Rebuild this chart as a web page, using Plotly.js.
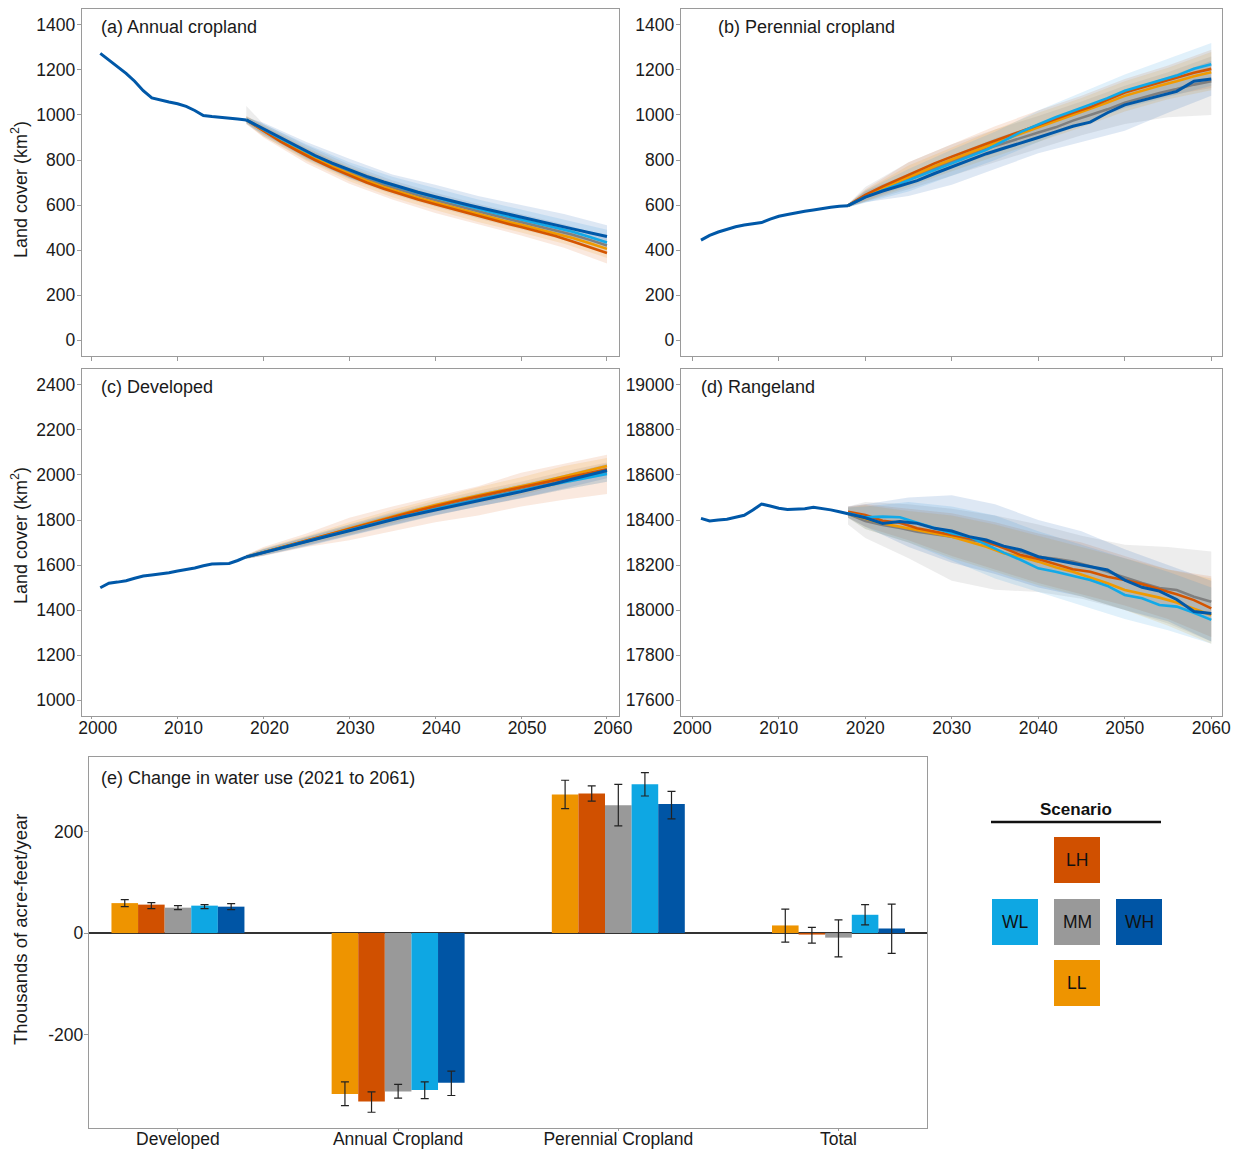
<!DOCTYPE html>
<html><head><meta charset="utf-8">
<script src="https://cdn.plot.ly/plotly-3.0.1.min.js"></script>
<style>html,body{margin:0;padding:0;background:#fff}#chart{width:1236px;height:1149px}</style>
</head><body><div id="chart"></div>
<script>
// ---------- DATA ----------
const scenarios = ['LL','LH','MM','WL','WH'];
const histYears = [2001,2002,2003,2004,2005,2006,2007,2008,2009,2010,2011,2012,2013,2014,2015,2016,2017,2018];
const projYears = [2018,2020,2022,2024,2026,2028,2030,2032,2034,2036,2038,2040,2042,2044,2046,2048,2050,2052,2054,2056,2058,2060];
const bandYears = [2018,2020,2025,2030,2035,2040,2045,2050,2055,2060];

// (a) Annual cropland
const annualHist = [1274,1245,1215,1185,1150,1108,1076,1066,1058,1050,1038,1020,998,993,990,988,982,978];
const annualLL = [978,930,886,845,806,770,738,708,680,655,632,611,590,570,549,530,512,493,474,453,430,405];
const annualLH = [978,928,882,840,800,764,731,700,672,647,624,603,582,562,541,521,502,482,462,438,413,387];
const annualMM = [978,933,890,850,812,778,746,717,690,665,643,622,601,582,562,543,525,506,488,468,445,420];
const annualWL = [978,936,895,856,818,785,754,726,700,676,654,633,612,593,573,554,536,518,500,481,458,433];
const annualWH = [978,938,897,858,820,786,755,727,702,679,657,637,617,599,581,563,546,529,512,494,477,460];
const annualLL_hi = [995,955,855,770,700,645,595,545,500,440];
const annualLL_lo = [965,905,795,705,635,578,525,478,428,365];
const annualLH_hi = [995,950,850,765,695,640,585,535,485,425];
const annualLH_lo = [960,900,785,695,625,565,515,465,410,340];
const annualMM_hi = [1040,960,865,780,710,655,605,560,515,460];
const annualMM_lo = [960,905,800,715,648,592,540,492,445,385];
const annualWL_hi = [992,960,870,790,725,675,625,580,535,490];
const annualWL_lo = [962,912,805,720,655,598,548,500,455,400];
const annualWH_hi = [990,965,880,805,735,690,640,600,560,510];
const annualWH_lo = [965,915,810,720,660,600,555,505,465,420];

// (b) Perennial cropland
const perennialHist = [444,465,480,493,503,511,517,522,537,550,558,566,572,578,585,590,594,597];
const perennialLL = [597,640,675,708,740,772,802,832,860,890,918,945,972,998,1025,1055,1085,1108,1130,1150,1172,1190];
const perennialLH = [597,645,683,718,752,785,815,845,872,900,928,955,985,1010,1035,1068,1100,1122,1145,1165,1188,1205];
const perennialMM = [597,642,675,705,735,765,795,822,850,875,900,922,945,975,1000,1025,1055,1078,1098,1115,1135,1150];
const perennialWL = [597,635,665,695,725,755,785,815,845,885,925,958,990,1018,1045,1075,1108,1130,1155,1175,1205,1225];
const perennialWH = [597,635,662,685,708,740,770,800,828,852,875,900,925,950,968,1010,1045,1065,1085,1105,1150,1160];
const perennialLL_hi = [605,665,775,855,935,1010,1075,1150,1210,1280];
const perennialLL_lo = [590,615,680,750,815,880,945,1015,1070,1110];
const perennialLH_hi = [605,670,790,870,950,1020,1085,1160,1220,1290];
const perennialLH_lo = [590,620,690,765,830,895,960,1035,1085,1120];
const perennialMM_hi = [605,680,790,870,935,995,1060,1130,1190,1260];
const perennialMM_lo = [590,615,670,730,790,850,910,960,990,1000];
const perennialWL_hi = [605,665,760,845,925,1020,1100,1180,1250,1320];
const perennialWL_lo = [590,610,660,730,800,880,960,1030,1080,1130];
const perennialWH_hi = [605,660,740,820,895,960,1030,1110,1170,1240];
const perennialWH_lo = [590,612,640,690,760,830,880,930,1010,1085];

// (c) Developed
const developedHist = [1499,1519,1524,1530,1541,1551,1556,1560,1566,1573,1579,1587,1597,1604,1606,1607,1620,1636];
const developedLL = [1636,1658,1678,1698,1718,1740,1762,1784,1806,1826,1847,1867,1885,1902,1918,1933,1948,1966,1984,2002,2021,2040];
const developedLH = [1636,1657,1677,1697,1717,1738,1759,1780,1802,1822,1842,1862,1880,1897,1913,1928,1943,1960,1977,1993,2009,2025];
const developedMM = [1636,1656,1675,1695,1715,1735,1755,1775,1795,1815,1834,1852,1870,1887,1903,1918,1933,1948,1964,1980,1996,2012];
const developedWL = [1636,1657,1676,1695,1714,1734,1754,1774,1794,1813,1831,1848,1865,1882,1898,1914,1930,1946,1960,1975,1990,2005];
const developedWH = [1636,1656,1675,1694,1713,1733,1752,1772,1792,1811,1828,1845,1862,1878,1894,1910,1926,1943,1962,1982,2001,2020];
const developedLL_hi = [1645,1675,1730,1790,1845,1895,1945,1990,2040,2075];
const developedLL_lo = [1628,1645,1690,1735,1785,1835,1875,1910,1960,2000];
const developedLH_hi = [1645,1680,1740,1810,1860,1905,1950,2010,2050,2090];
const developedLH_lo = [1628,1640,1680,1710,1750,1790,1820,1860,1890,1915];
const developedMM_hi = [1645,1670,1725,1780,1835,1885,1930,1970,2015,2055];
const developedMM_lo = [1628,1642,1685,1730,1775,1820,1860,1895,1935,1970];
const developedWL_hi = [1645,1672,1725,1780,1830,1875,1920,1960,2000,2045];
const developedWL_lo = [1628,1642,1682,1728,1775,1820,1860,1898,1935,1970];
const developedWH_hi = [1645,1670,1722,1775,1825,1870,1915,1955,2000,2050];
const developedWH_lo = [1628,1642,1684,1730,1778,1822,1860,1898,1940,1985];

// (d) Rangeland
const rangeHist = [18407,18396,18400,18403,18412,18421,18444,18471,18462,18452,18447,18447,18450,18456,18452,18445,18437,18428];
const rangeLL = [18428,18405,18385,18370,18355,18341,18326,18303,18281,18252,18237,18215,18190,18170,18145,18119,18089,18072,18055,18033,18007,17978];
const rangeLH = [18437,18422,18397,18388,18363,18348,18333,18318,18304,18275,18244,18227,18205,18181,18170,18148,18133,18115,18092,18070,18044,18007];
const rangeMM = [18428,18395,18378,18365,18348,18338,18326,18312,18299,18280,18259,18237,18228,18215,18195,18170,18144,18120,18098,18089,18059,18037];
const rangeWL = [18430,18412,18415,18412,18388,18363,18341,18326,18289,18255,18222,18185,18170,18151,18133,18107,18067,18052,18022,18015,17988,17956];
const rangeWH = [18428,18410,18385,18393,18385,18363,18351,18326,18311,18284,18267,18237,18222,18207,18193,18178,18133,18101,18084,18047,17993,17985];
const rangeLL_hi = [18455,18465,18440,18420,18380,18330,18280,18230,18180,18140];
const rangeLL_lo = [18410,18360,18300,18230,18170,18110,18060,18000,17930,17850];
const rangeLH_hi = [18460,18470,18450,18430,18390,18340,18300,18240,18180,18150];
const rangeLH_lo = [18410,18370,18310,18240,18180,18120,18070,18020,17960,17880];
const rangeMM_hi = [18460,18480,18470,18450,18420,18380,18330,18290,18280,18260];
const rangeMM_lo = [18380,18320,18230,18130,18090,18080,18050,18000,17940,17860];
const rangeWL_hi = [18455,18460,18480,18460,18420,18350,18290,18230,18170,18100];
const rangeWL_lo = [18410,18360,18300,18220,18140,18080,18020,17960,17910,17850];
const rangeWH_hi = [18460,18470,18500,18510,18470,18400,18350,18270,18200,18130];
const rangeWH_lo = [18410,18370,18280,18210,18160,18100,18060,18000,17950,17860];

// (e) Change in water use (thousands of acre-feet/year)
const waterCategories = ['Developed','Annual Cropland','Perennial Cropland','Total'];
const waterLL = [59,-317,273,15];
const waterLL_hi = [66,-293,301,47];
const waterLL_lo = [52,-340,245,-18];
const waterLH = [56,-332,275,-3];
const waterLH_hi = [60,-313,290,11];
const waterLH_lo = [48,-353,260,-20];
const waterMM = [50,-312,252,-9];
const waterMM_hi = [54,-298,293,26];
const waterMM_lo = [46,-325,211,-47];
const waterWL = [54,-309,293,36];
const waterWL_hi = [56,-293,316,56];
const waterWL_lo = [48,-326,270,16];
const waterWH = [52,-295,254,9];
const waterWH_hi = [58,-272,279,57];
const waterWH_lo = [46,-320,225,-40];

const yTicksWater = [-200,0,200];
const yTickTextWater = ['-200','0','200'];

// ---------- STYLE ----------
const barColors = {LL:'#EE9400', LH:'#D05000', MM:'#999999', WL:'#0EA7E3', WH:'#0055A5'};
const lineColors = {LL:'#F09A00', LH:'#D45500', MM:'#7F7F7F', WL:'#12A9E8', WH:'#0058A8'};
const bandColors = {LL:'rgba(240,154,0,0.14)', LH:'rgba(220,100,30,0.14)', MM:'rgba(140,140,140,0.16)', WL:'rgba(20,150,225,0.13)', WH:'rgba(0,80,170,0.13)'};
const FONT = 'Liberation Sans, Arial, Helvetica, sans-serif';
const TXT = '#1a1a1a';

const panels = [
  {ax:'', hist:annualHist, mean:{LL:annualLL,LH:annualLH,MM:annualMM,WL:annualWL,WH:annualWH},
   hi:{LL:annualLL_hi,LH:annualLH_hi,MM:annualMM_hi,WL:annualWL_hi,WH:annualWH_hi},
   lo:{LL:annualLL_lo,LH:annualLH_lo,MM:annualMM_lo,WL:annualWL_lo,WH:annualWH_lo}},
  {ax:'2', hist:perennialHist, mean:{LL:perennialLL,LH:perennialLH,MM:perennialMM,WL:perennialWL,WH:perennialWH},
   hi:{LL:perennialLL_hi,LH:perennialLH_hi,MM:perennialMM_hi,WL:perennialWL_hi,WH:perennialWH_hi},
   lo:{LL:perennialLL_lo,LH:perennialLH_lo,MM:perennialMM_lo,WL:perennialWL_lo,WH:perennialWH_lo}},
  {ax:'3', hist:developedHist, mean:{LL:developedLL,LH:developedLH,MM:developedMM,WL:developedWL,WH:developedWH},
   hi:{LL:developedLL_hi,LH:developedLH_hi,MM:developedMM_hi,WL:developedWL_hi,WH:developedWH_hi},
   lo:{LL:developedLL_lo,LH:developedLH_lo,MM:developedMM_lo,WL:developedWL_lo,WH:developedWH_lo}},
  {ax:'4', hist:rangeHist, mean:{LL:rangeLL,LH:rangeLH,MM:rangeMM,WL:rangeWL,WH:rangeWH},
   hi:{LL:rangeLL_hi,LH:rangeLH_hi,MM:rangeMM_hi,WL:rangeWL_hi,WH:rangeWH_hi},
   lo:{LL:rangeLL_lo,LH:rangeLH_lo,MM:rangeMM_lo,WL:rangeWL_lo,WH:rangeWH_lo}}
];

const drawOrder = ['MM','LL','LH','WL','WH'];
const traces = [];
panels.forEach(p => {
  const xa = 'x'+p.ax, ya = 'y'+p.ax;
  drawOrder.forEach(s => {
    traces.push({type:'scatter', mode:'lines', xaxis:xa, yaxis:ya, hoverinfo:'skip', showlegend:false,
      x: bandYears.concat(bandYears.slice().reverse()),
      y: p.hi[s].concat(p.lo[s].slice().reverse()),
      fill:'toself', fillcolor: bandColors[s], line:{width:0, color:'rgba(0,0,0,0)'}});
  });
  drawOrder.forEach(s => {
    traces.push({type:'scatter', mode:'lines', xaxis:xa, yaxis:ya, showlegend:false, name:s,
      x: projYears, y: p.mean[s], line:{color:lineColors[s], width: s==='WH'?3:2.6}});
  });
  traces.push({type:'scatter', mode:'lines', xaxis:xa, yaxis:ya, showlegend:false, name:'Historical',
    x: histYears, y: p.hist, line:{color:lineColors.WH, width:3}});
});

const waterVals = {LL:waterLL,LH:waterLH,MM:waterMM,WL:waterWL,WH:waterWH};
const waterHi = {LL:waterLL_hi,LH:waterLH_hi,MM:waterMM_hi,WL:waterWL_hi,WH:waterWH_hi};
const waterLo = {LL:waterLL_lo,LH:waterLH_lo,MM:waterMM_lo,WL:waterWL_lo,WH:waterWH_lo};
scenarios.forEach(s => {
  const v = waterVals[s];
  traces.push({type:'bar', xaxis:'x5', yaxis:'y5', name:s, showlegend:false,
    x: waterCategories, y: v, marker:{color:barColors[s], line:{width:0}},
    error_y:{type:'data', symmetric:false,
      array: v.map((d,i)=> waterHi[s][i]-d),
      arrayminus: v.map((d,i)=> d-waterLo[s][i]),
      color:'#222', thickness:1.2, width:4}});
});

// ---------- LAYOUT ----------
const W = 1236, H = 1149;
const px = x => x/W, py = y => 1 - y/H;
const base = {showline:true, mirror:true, linecolor:'#9a9a9a', linewidth:1.2, ticks:'outside', ticklen:4,
  tickcolor:'#9a9a9a', tickwidth:1, showgrid:false, zeroline:false, fixedrange:true,
  tickfont:{family:FONT, size:17.5, color:TXT}};
const xYears = Object.assign({}, base, {tickmode:'array', tickvals:[2000,2010,2020,2030,2040,2050,2060], ticklen:2, ticklabelstandoff:-6});
const yLand = Object.assign({}, base, {dtick:200, ticklabelstandoff:-2});

const layout = {
  width:W, height:H, margin:{l:0,r:0,t:0,b:0}, paper_bgcolor:'#fff', plot_bgcolor:'#fff',
  showlegend:false, barmode:'group', bargap:0.396, bargroupgap:0,
  font:{family:FONT, color:TXT},
  xaxis: Object.assign({}, xYears, {domain:[px(82),px(618.5)], range:[1998.87,2061.34], showticklabels:false, ticklen:4, anchor:'y'}),
  yaxis: Object.assign({}, yLand, {domain:[py(356),py(9)], range:[-71,1471], tick0:0, anchor:'x'}),
  xaxis2: Object.assign({}, xYears, {domain:[px(681),px(1222)], range:[1998.69,2061.24], showticklabels:false, ticklen:4, anchor:'y2'}),
  yaxis2: Object.assign({}, yLand, {domain:[py(356),py(9)], range:[-71,1471], tick0:0, anchor:'x2'}),
  xaxis3: Object.assign({}, xYears, {domain:[px(82),px(618.5)], range:[1998.87,2061.34], ticklabelshift:6, anchor:'y3'}),
  yaxis3: Object.assign({}, yLand, {domain:[py(716),py(369)], range:[929,2471], tick0:1000, anchor:'x3'}),
  xaxis4: Object.assign({}, xYears, {domain:[px(681),px(1222)], range:[1998.69,2061.24], anchor:'y4'}),
  yaxis4: Object.assign({}, yLand, {domain:[py(716),py(369)], range:[17529,19071], tick0:17600, tickformat:'d', anchor:'x4'}),
  xaxis5: Object.assign({}, base, {domain:[px(89),px(927)], range:[-0.404,3.402], type:'category', ticklen:2, ticklabelstandoff:-7, anchor:'y5'}),
  yaxis5: Object.assign({}, base, {domain:[py(1128),py(757)], range:[-384,346.8], tickmode:'array',
    tickvals:yTicksWater, ticktext:yTickTextWater, zeroline:true, zerolinecolor:'#333', zerolinewidth:1.3, ticklabelstandoff:-3, anchor:'x5'}),
  annotations: [],
  shapes: []
};

const ann = (text, x, y, opts) => Object.assign({text, x:px(x), y:py(y), xref:'paper', yref:'paper',
  showarrow:false, font:{family:FONT, size:18, color:TXT}}, opts||{});
layout.annotations.push(ann('(a) Annual cropland', 99, 27, {xanchor:'left', yanchor:'middle'}));
layout.annotations.push(ann('(b) Perennial cropland', 716, 27, {xanchor:'left', yanchor:'middle'}));
layout.annotations.push(ann('(c) Developed', 99, 387, {xanchor:'left', yanchor:'middle'}));
layout.annotations.push(ann('(d) Rangeland', 699, 387, {xanchor:'left', yanchor:'middle'}));
layout.annotations.push(ann('(e) Change in water use (2021 to 2061)', 99, 778, {xanchor:'left', yanchor:'middle'}));
const yTitleFont = {family:FONT, size:18, color:TXT};
layout.annotations.push(ann('Land cover (km<sup>2</sup>)', 19, 190, {textangle:-90, xanchor:'center', yanchor:'middle', font:yTitleFont}));
layout.annotations.push(ann('Land cover (km<sup>2</sup>)', 19, 536, {textangle:-90, xanchor:'center', yanchor:'middle', font:yTitleFont}));
layout.annotations.push(ann('Thousands of acre-feet/year', 20, 930, {textangle:-90, xanchor:'center', yanchor:'middle', font:{family:FONT, size:18.5, color:TXT}}));

// Scenario legend
layout.annotations.push(ann('<b>Scenario</b>', 1076, 809, {xanchor:'center', yanchor:'middle', font:{family:FONT, size:17, color:'#111'}}));
layout.shapes.push({type:'line', xref:'paper', yref:'paper', x0:px(991), x1:px(1161), y0:py(822), y1:py(822), line:{color:'#111', width:2.5}});
const legendPos = {LH:[1054,837], WL:[992,899], MM:[1054,899], WH:[1116,899], LL:[1054,960]};
scenarios.forEach(s => {
  const [x0,y0] = legendPos[s];
  layout.shapes.push({type:'rect', xref:'paper', yref:'paper', x0:px(x0), x1:px(x0+46), y0:py(y0+46), y1:py(y0),
    fillcolor:barColors[s], line:{width:0}});
  layout.annotations.push(ann(s, x0+23, y0+23, {xanchor:'center', yanchor:'middle', font:{family:FONT, size:17.5, color:'#111'}}));
});

Plotly.newPlot('chart', traces, layout, {staticPlot:true, displayModeBar:false});
</script>
</body></html>
